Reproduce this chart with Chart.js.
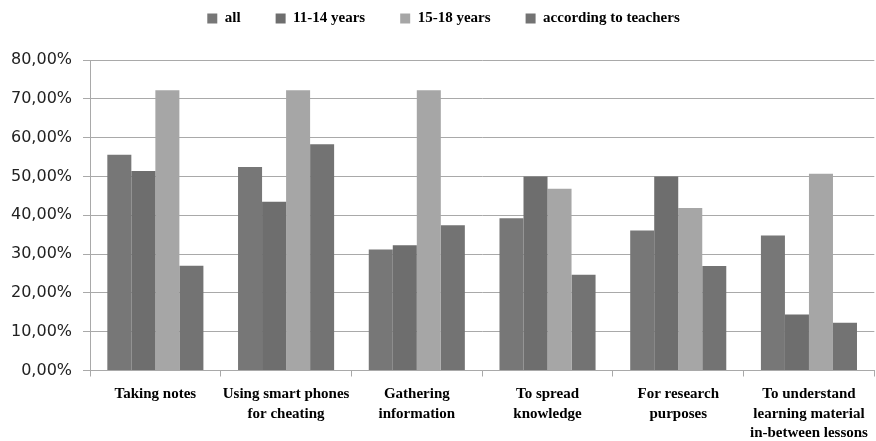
<!DOCTYPE html>
<html>
<head>
<meta charset="utf-8">
<script src="https://cdn.jsdelivr.net/npm/chart.js@4.4.1/dist/chart.umd.min.js"></script>
<style>
  html, body { margin: 0; padding: 0; background: #ffffff; }
  #wrap { width: 876px; height: 441px; position: relative; }
</style>
</head>
<body>
<div id="wrap"><canvas id="chart"></canvas></div>
<script>
// Purposes of smartphone use in school, share of respondents per group
const categories = [
  'Taking notes',
  ['Using smart phones', 'for cheating'],
  ['Gathering', 'information'],
  ['To spread', 'knowledge'],
  ['For research', 'purposes'],
  ['To understand', 'learning material', 'in-between lessons']
];
const seriesNames = ['all', '11-14 years', '15-18 years', 'according to teachers'];
const allValues      = [55.6, 52.4, 31.2, 39.2, 36.1, 34.8];
const age11to14      = [51.4, 43.5, 32.3, 50.0, 50.0, 14.4];
const age15to18      = [72.2, 72.2, 72.2, 46.8, 41.9, 50.7];
const teacherValues  = [27.0, 58.3, 37.4, 24.7, 26.9, 12.3];
const yTicks = [0, 10, 20, 30, 40, 50, 60, 70, 80];

const barColors = ['#777777', '#6e6e6e', '#a6a6a6', '#737373'];
const seriesValues = [allValues, age11to14, age15to18, teacherValues];

const gridColor = '#a9a9a9';

// Leaves extra room between the legend row and the plot area,
// and nudges the legend row slightly to the right
const legendGap = {
  id: 'legendGap',
  afterInit(chart) {
    const legend = chart.legend;
    if (!legend || legend._gapWrapped) return;
    const fit = legend.fit;
    legend.fit = function () {
      fit.call(this);
      this.height += 24;
    };
    legend._gapWrapped = true;
  },
  afterLayout(chart) {
    const legend = chart.legend;
    if (!legend) return;
    legend.left += 6;
    legend.right += 6;
  }
};

new Chart(document.getElementById('chart'), {
  type: 'bar',
  data: {
    labels: categories,
    datasets: seriesNames.map((name, i) => ({
      label: name,
      data: seriesValues[i],
      backgroundColor: barColors[i],
      borderWidth: 0,
      categoryPercentage: 0.735,
      barPercentage: 1.0
    }))
  },
  plugins: [legendGap],
  options: {
    responsive: true,
    maintainAspectRatio: false,
    animation: false,
    layout: { padding: { left: 0, right: 1, top: -24, bottom: -10 } },
    plugins: {
      tooltip: { enabled: false },
      legend: {
        position: 'top',
        labels: {
          boxWidth: 10,
          boxHeight: 10,
          padding: 35,
          color: '#000000',
          font: { family: '"Liberation Serif", "Times New Roman", serif', size: 15, weight: 'bold' }
        }
      }
    },
    scales: {
      x: {
        grid: {
          display: true,
          drawOnChartArea: false,
          offset: true,
          color: gridColor,
          tickLength: 6
        },
        border: { color: gridColor, width: 1 },
        ticks: {
          color: '#000000',
          padding: 8,
          maxRotation: 0,
          autoSkip: false,
          font: { family: '"Liberation Serif", "Times New Roman", serif', size: 15, weight: 'bold', lineHeight: 1.3 }
        }
      },
      y: {
        min: 0,
        max: 80,
        afterBuildTicks: (axis) => { axis.ticks = yTicks.map(v => ({ value: v })); },
        grid: { color: gridColor, lineWidth: 1, tickLength: 7 },
        border: { color: gridColor, width: 1 },
        ticks: {
          color: '#222222',
          padding: 11,
          font: { family: '"DejaVu Sans", sans-serif', size: 16 },
          callback: (v) => v.toFixed(2).replace('.', ',') + '%'
        }
      }
    }
  }
});
</script>
</body>
</html>
